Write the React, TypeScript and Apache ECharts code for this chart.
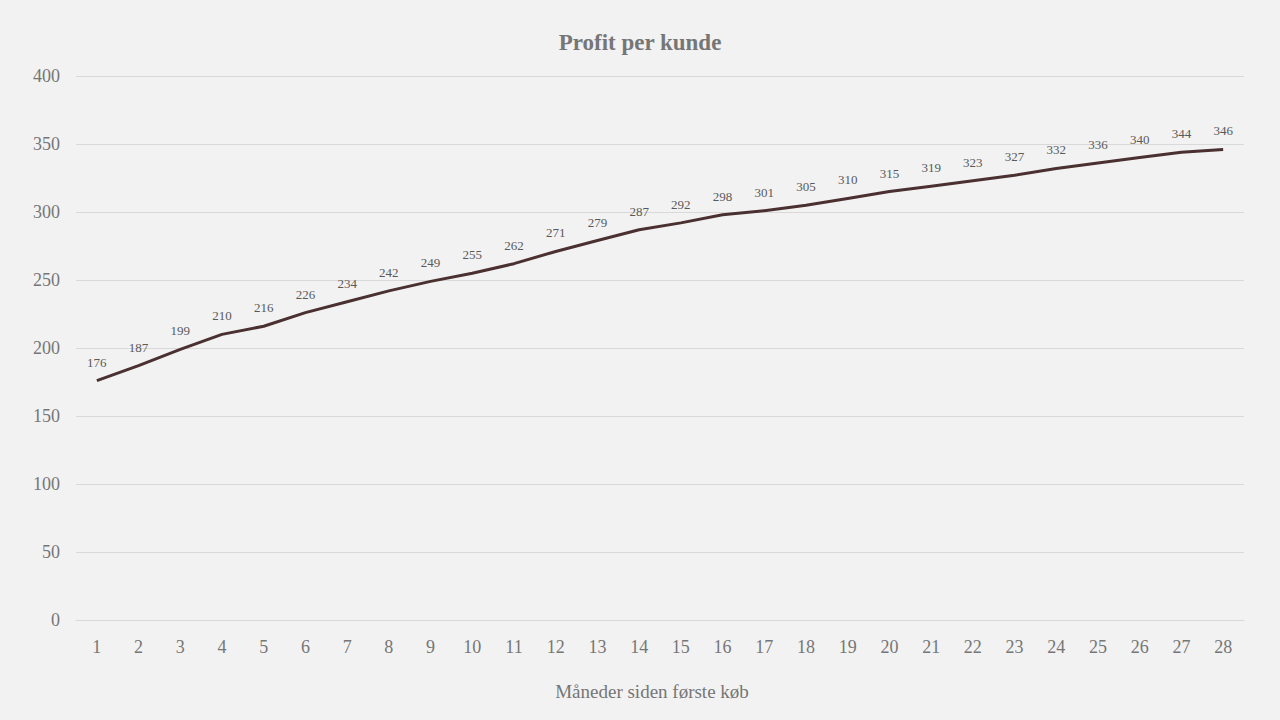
import React, { useEffect, useRef } from "react";
import * as echarts from "echarts";

const months = ["1","2","3","4","5","6","7","8","9","10","11","12","13","14","15","16","17","18","19","20","21","22","23","24","25","26","27","28"];
const profit = [176,187,199,210,216,226,234,242,249,255,262,271,279,287,292,298,301,305,310,315,319,323,327,332,336,340,344,346];

const FONT = "'Liberation Serif', 'DejaVu Serif', serif";

export default function App() {
  const ref = useRef<HTMLDivElement>(null);
  useEffect(() => {
    const chart = echarts.init(ref.current!, null, { renderer: "svg" });
    chart.setOption({
      animation: false,
      backgroundColor: "#f2f2f2",
      textStyle: { fontFamily: FONT },
      title: {
        text: "Profit per kunde",
        left: "center",
        top: 26,
        textStyle: { fontFamily: FONT, fontSize: 23, fontWeight: "bold", color: "#767676" },
      },
      grid: { left: 76, right: 36, top: 76, bottom: 100 },
      xAxis: {
        type: "category",
        data: months,
        name: "Måneder siden første køb",
        nameLocation: "middle",
        nameGap: 62,
        nameTextStyle: { fontFamily: FONT, fontSize: 19, color: "#767676", padding: [0, 16, 0, 0] },
        axisLine: { show: true, lineStyle: { color: "#d9d9d9" } },
        axisTick: { show: false },
        axisLabel: { fontFamily: FONT, fontSize: 18, color: "#767676", margin: 18 },
      },
      yAxis: {
        type: "value",
        min: 0,
        max: 400,
        interval: 50,
        axisLine: { show: false },
        axisTick: { show: false },
        splitLine: { lineStyle: { color: "#d9d9d9" } },
        axisLabel: { fontFamily: FONT, fontSize: 18, color: "#767676", margin: 16 },
      },
      series: [
        {
          type: "line",
          data: profit,
          symbol: "circle",
          symbolSize: 2,
          showSymbol: true,
          showAllSymbol: true,
          itemStyle: { color: "rgba(74,48,48,0)", borderWidth: 0 },
          lineStyle: { color: "#4a3030", width: 3 },
          label: {
            show: true,
            position: "top",
            distance: 11,
            fontFamily: FONT,
            fontSize: 13,
            color: "#595959",
          },
        },
      ],
    });
    return () => chart.dispose();
  }, []);
  return <div ref={ref} style={{ width: 1280, height: 720, position: "absolute", left: 0, top: 0 }} />;
}
